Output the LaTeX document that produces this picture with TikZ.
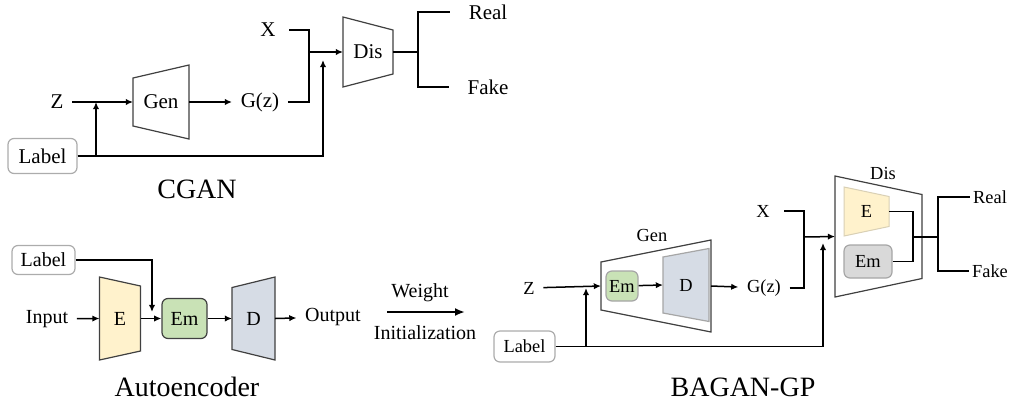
\documentclass[tikz,border=0pt]{standalone}
\usepackage{fontspec}
\setmainfont{LiberationSerif}[Extension=.ttf,UprightFont=*-Regular,BoldFont=*-Bold]
\usetikzlibrary{arrows.meta,positioning}
\definecolor{encyellow}{HTML}{FFF2CC}
\definecolor{embgreen}{HTML}{C9E2B6}
\definecolor{decblue}{HTML}{D6DCE5}
\definecolor{embgray}{HTML}{D9D9D9}
\definecolor{edge}{HTML}{404040}
% trapezoid block: name, cx, cy, half width, left half height, right half height, style, text
\newcommand{\trapblock}[8]{%
  \draw[#7] (#2-#4,#3-#5) -- (#2+#4,#3-#6) -- (#2+#4,#3+#6) -- (#2-#4,#3+#5) -- cycle;
  \node[inner sep=0pt] (#1) at (#2,#3) {#8};
  \coordinate (#1-w) at (#2-#4,#3);
  \coordinate (#1-e) at (#2+#4,#3);}

\begin{document}
\begin{tikzpicture}[
  x=0.5pt,y=-0.5pt,
  line width=0.75pt,
  txt/.style={inner sep=4pt},
  lbl/.style={draw=gray!65,rounded corners=3pt,fill=white,line width=0.6pt,inner sep=1pt},
  blk/.style={draw=edge,line width=0.6pt},
  box/.style={rounded corners=3pt,line width=0.6pt,inner sep=1pt},
  arr/.style={-{Latex[length=3.6pt,width=3.2pt]}},
  ttl/.style={font=\fontsize{14}{16}\selectfont},
]
\useasboundingbox (0,0) rectangle (1011,402);
% CGAN
\begin{scope}[font=\fontsize{10.5}{12}\selectfont]
\node[txt] (zA) at (57,102) {Z};
\trapblock{genA}{161}{102}{28}{24}{37}{blk,fill=white}{Gen}
\node[txt] (gzA) at (260,102) {G(z)};
\node[txt] (xA) at (268,30) {X};
\trapblock{disA}{368}{52}{25}{35}{22}{blk,fill=white}{Dis}
\node[txt] (realA) at (488,12) {Real};
\node[txt] (fakeA) at (488,87) {Fake};
\node[lbl,minimum width=34.5pt,minimum height=17.5pt] (labA) at (42.5,156) {Label};
\coordinate (jA) at (96,102);
\coordinate (mA) at (309,52);
\coordinate (dcA) at (323,60);
\coordinate (sA) at (418,52);
\draw[arr] (zA) -- (genA-w);
\draw[arr] (labA.east) -| (jA);
\draw[arr] (labA.east) -| (dcA);
\draw[arr] (genA-e) -- (gzA);
\draw (gzA) -| (mA);
\draw[shorten <=2.5pt] (xA) -| (mA);
\draw[arr] (mA) -- (disA-w);
\draw (disA-e) -- (sA);
\draw[shorten >=5pt] (sA) |- (realA);
\draw[shorten >=5pt] (sA) |- (fakeA);
\end{scope}
\node[ttl] (cgan) at (197,189) {CGAN};
% Autoencoder
\begin{scope}[font=\fontsize{10}{12}\selectfont]
\node[lbl,minimum width=31.5pt,minimum height=14.5pt] (labB) at (43.5,260) {Label};
\node[txt] (inB) at (47,319) {Input};
\trapblock{eB}{120}{318.5}{20.5}{41.5}{32.5}{blk,fill=encyellow}{E}
\node[box,draw=edge,fill=embgreen,minimum width=22.5pt,minimum height=20pt] (emB) at (184.5,318.5) {Em};
\trapblock{dB}{253.5}{318.5}{21.5}{31}{41.5}{blk,fill=decblue}{D}
\node[txt] (outB) at (333,317) {Output};
\coordinate (tB) at (152,312);
\draw[arr] (inB) -- (eB-w);
\draw[arr] (eB-e) -- (emB);
\draw[arr] (labB.east) -| (tB);
\draw[arr] (emB) -- (dB-w);
\draw[arr] (dB-e) -- (outB);
% weight transfer
\node[txt] (wgt) at (420,293) {Weight};
\node[txt] (init) at (425,333) {Initialization};
\coordinate (wS) at (387,312);
\coordinate (wE) at (465,312);
\draw[-{Latex[length=5pt,width=4pt]},line width=1pt] (wS) -- (wE);
\end{scope}
\node[ttl] (ae) at (187,387) {Autoencoder};
% BAGAN-GP
\begin{scope}[font=\fontsize{9.2}{11}\selectfont]
\node[txt] (zC) at (529,288) {Z};
\node[lbl,minimum width=30.5pt,minimum height=15.5pt] (labC) at (524.5,346.5) {Label};
\trapblock{genC}{656}{286}{55}{24}{46}{blk,fill=white}{}
\node (genCt) at (652,235) {Gen};
\node[box,draw=gray!70,fill=embgreen,minimum width=16pt,minimum height=15pt] (emC) at (622,286) {Em};
\trapblock{dC}{686}{285}{23}{28}{36.5}{draw=gray!70,line width=0.6pt,fill=decblue}{D}
\node[txt] (gzC) at (764,288) {G(z)};
\node[txt] (xC) at (763,211) {X};
\trapblock{disC}{878.5}{236.5}{43.5}{60.5}{42}{blk,fill=white}{}
\node (disCt) at (883,173) {Dis};
\trapblock{eC}{866.5}{211.5}{22.5}{24.5}{15}{draw=encyellow!70!gray,line width=0.5pt,fill=encyellow}{E}
\node[box,draw=gray!70,fill=embgray,minimum width=24pt,minimum height=16.5pt] (emD) at (868,261.5) {Em};
\node[inner sep=1pt] (realC) at (990,197) {Real};
\node[inner sep=1pt] (fakeC) at (990,271) {Fake};
\coordinate (jC) at (586,288);
\coordinate (mC) at (804,237);
\coordinate (dcC) at (823,243);
\coordinate (kC) at (913,237);
\coordinate (sC) at (938,237);
\draw[arr] (zC) -- (genC-w);
\draw[arr] (labC.east) -| (jC);
\draw[arr] (labC.east) -| (dcC);
\draw[arr] (emC) -- (dC-w);
\draw[arr] (genC-e) -- (gzC);
\draw (gzC) -| (mC);
\draw[shorten <=3pt] (xC) -| (mC);
\draw[arr] (mC) -- (disC-w);
\draw (eC-e) -| (kC);
\draw (emD) -| (kC);
\draw (kC) -- (sC);
\draw (sC) |- (realC);
\draw (sC) |- (fakeC);
\end{scope}
\node[ttl] (bagan) at (743,387) {BAGAN-GP};
\end{tikzpicture}
\end{document}
